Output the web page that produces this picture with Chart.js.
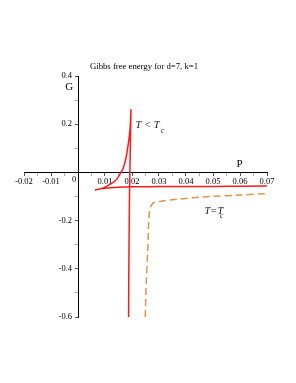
<!DOCTYPE html>
<html>
<head>
<meta charset="utf-8">
<script src="https://cdn.jsdelivr.net/npm/chart.js@4.4.1/dist/chart.umd.min.js"></script>
<style>
  html, body { margin: 0; padding: 0; background: #ffffff; }
  #c { display: block; }
</style>
</head>
<body>
<canvas id="c" width="296" height="383"></canvas>
<script>
// ---- data ----
const chartTitle = 'Gibbs free energy for d=7, k=1';
const xTickValues = [-0.02, -0.015, -0.01, -0.005, 0, 0.005, 0.01, 0.015, 0.02, 0.025, 0.03, 0.035, 0.04, 0.045, 0.05, 0.055, 0.06, 0.065, 0.07];
const xTickLabels = ['-0.02', '', '-0.01', '', '', '', '0.01', '', '0.02', '', '0.03', '', '0.04', '', '0.05', '', '0.06', '', '0.07'];
const yTickValues = [0.4, 0.3, 0.2, 0.1, 0, -0.1, -0.2, -0.3, -0.4, -0.5, -0.6];
const yTickLabels = ['0.4', '', '0.2', '', '', '', '-0.2', '', '-0.4', '', '-0.6'];

// T < Tc branch (swallowtail)
const belowP = [0.01874, 0.0188, 0.0189, 0.0191, 0.0193, 0.0195, 0.01963, 0.0194, 0.0190, 0.0186, 0.0178, 0.0168, 0.0159, 0.0143, 0.0118, 0.0094, 0.0063, 0.0080, 0.0100, 0.0150, 0.0200, 0.0300, 0.0400, 0.0500, 0.0600, 0.0700];
const belowG = [-0.600, -0.450, -0.300, -0.073, 0.050, 0.180, 0.262, 0.200, 0.150, 0.116, 0.061, 0.0195, 0.000, -0.029, -0.050, -0.064, -0.073, -0.069, -0.066, -0.062, -0.060, -0.059, -0.058, -0.058, -0.057, -0.056];

// T = Tc branch
const critP = [0.0249, 0.0253, 0.0258, 0.0262, 0.0265, 0.0268, 0.0274, 0.0280, 0.0311, 0.0360, 0.0490, 0.0600, 0.0700];
const critG = [-0.600, -0.450, -0.332, -0.200, -0.160, -0.144, -0.133, -0.126, -0.119, -0.112, -0.100, -0.094, -0.088];

const toPts = (xs, ys) => xs.map((x, i) => ({ x: x, y: ys[i] }));

const serif = "'Liberation Serif', 'DejaVu Serif', serif";

const textPlugin = {
  id: 'texts',
  afterDraw(chart) {
    const ctx = chart.ctx;
    const xs = chart.scales.x, ys = chart.scales.y;
    const x0 = xs.getPixelForValue(0), y0 = ys.getPixelForValue(0);
    ctx.save();
    ctx.fillStyle = '#000';
    ctx.textBaseline = 'middle';
    // y-axis tick labels, placed from the y scale
    ctx.textAlign = 'right';
    ctx.font = '8.5px ' + serif;
    yTickValues.forEach((v, i) => {
      if (yTickLabels[i]) ctx.fillText(yTickLabels[i], x0 - 6, ys.getPixelForValue(v));
    });
    // title
    ctx.textAlign = 'center';
    ctx.font = '8.7px ' + serif;
    ctx.fillText(chartTitle, 144, 66.7);
    // origin label
    ctx.font = '8.5px ' + serif;
    ctx.fillText('0', x0 - 4, y0 + 7);
    // axis names
    ctx.font = '11px ' + serif;
    ctx.fillText('P', 239.5, 164.3);
    ctx.fillText('G', 69.3, 87.3);
    // curve labels
    ctx.textAlign = 'left';
    ctx.fillStyle = '#222';
    ctx.font = 'italic 10.5px ' + serif;
    ctx.fillText('T < T', 135.5, 125.3);
    ctx.font = 'italic 7.5px ' + serif;
    ctx.fillText('c', 161, 131);
    ctx.font = 'italic 10.5px ' + serif;
    ctx.fillText('T=T', 204.5, 211.7);
    ctx.font = 'italic 7.5px ' + serif;
    ctx.fillText('c', 220, 216.5);
    ctx.restore();
  }
};

const labelFor = (vals, labels) => (v) => {
  const i = vals.findIndex(t => Math.abs(t - v) < 1e-9);
  return i >= 0 ? labels[i] : '';
};

new Chart(document.getElementById('c'), {
  type: 'scatter',
  data: {
    datasets: [
      {
        data: toPts(belowP, belowG),
        showLine: true,
        borderColor: '#ff1a1a',
        borderWidth: 1.5,
        pointRadius: 0,
        cubicInterpolationMode: 'monotone',
        fill: false
      },
      {
        data: toPts(critP, critG),
        showLine: true,
        borderColor: '#d8974f',
        borderWidth: 1.5,
        borderDash: [7, 4],
        pointRadius: 0,
        tension: 0.3,
        fill: false
      }
    ]
  },
  options: {
    responsive: false,
    animation: false,
    events: [],
    layout: { padding: { left: 24, right: 29, top: 76, bottom: 66 } },
    plugins: { legend: { display: false }, title: { display: false }, tooltip: { enabled: false } },
    scales: {
      x: {
        type: 'linear',
        min: -0.02, max: 0.07,
        position: { y: 0 },
        afterBuildTicks: (s) => { s.ticks = xTickValues.map(v => ({ value: v })); },
        ticks: {
          autoSkip: false, maxRotation: 0, padding: 1,
          color: '#000',
          font: { family: serif, size: 8.5 },
          callback: labelFor(xTickValues, xTickLabels)
        },
        grid: {
          drawOnChartArea: false, drawTicks: true, tickLength: 3, color: '#000',
          tickColor: (c) => (c.tick && labelFor(xTickValues, xTickLabels)(c.tick.value) !== '') ? '#555' : '#aaa'
        },
        border: { display: true, color: '#000', width: 1 }
      },
      y: {
        type: 'linear',
        min: -0.6, max: 0.4,
        position: { x: 0 },
        afterBuildTicks: (s) => { s.ticks = yTickValues.map(v => ({ value: v })); },
        ticks: {
          autoSkip: false, padding: 3,
          color: '#000',
          font: { family: serif, size: 8.5 },
          callback: () => ''
        },
        grid: {
          drawOnChartArea: false, drawTicks: true, tickLength: 3, color: '#000',
          tickColor: (c) => (c.tick && labelFor(yTickValues, yTickLabels)(c.tick.value) !== '') ? '#555' : '#aaa'
        },
        border: { display: true, color: '#000', width: 1 }
      }
    }
  },
  plugins: [textPlugin]
});
</script>
</body>
</html>
